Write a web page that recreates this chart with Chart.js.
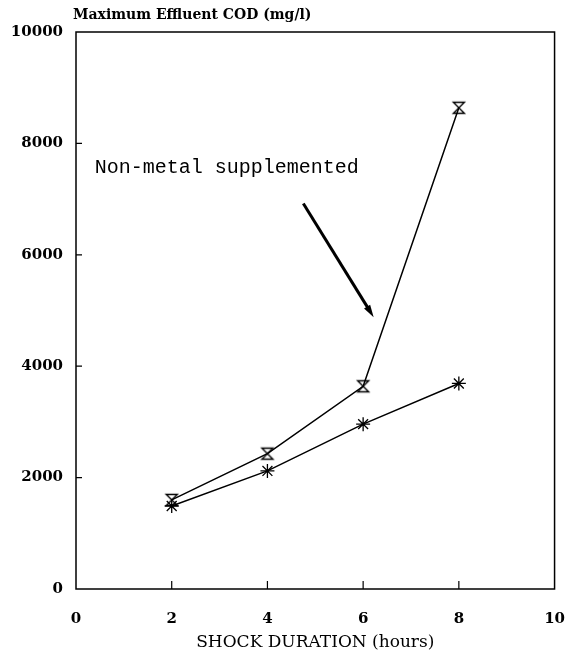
<!DOCTYPE html>
<html>
<head>
<meta charset="utf-8">
<script src="https://cdn.jsdelivr.net/npm/chart.js@4"></script>
<style>
  html, body { margin: 0; padding: 0; background: #fff; }
  #wrap { width: 566px; height: 659px; }
</style>
</head>
<body>
<div id="wrap"><canvas id="codChart" width="566" height="659"></canvas></div>
<script>
// shock duration (hours)
const durations = [2, 4, 6, 8];
// max effluent COD (mg/l)
const nonMetal = [1600, 2430, 3640, 8640];
const metal = [1490, 2120, 2960, 3690];
const xTicks = [0, 2, 4, 6, 8, 10];
const yTicks = [0, 2000, 4000, 6000, 8000, 10000];

// annotation, in data units
const noteText = 'Non-metal supplemented';
const notePos = [0.39, 7460];
const arrowFrom = [4.75, 6920];
const arrowTo = [6.22, 4880];

const serif = "'DejaVu Serif', serif";

// hourglass marker
const hourglass = document.createElement('canvas');
hourglass.width = 16;
hourglass.height = 16;
(function () {
  const c = hourglass.getContext('2d');
  c.strokeStyle = '#000';
  c.lineWidth = 1.4;
  c.beginPath();
  c.moveTo(2.5, 2.5); c.lineTo(13.5, 2.5); c.lineTo(2.5, 13.5); c.lineTo(13.5, 13.5); c.closePath();
  c.stroke();
})();

const frame = {
  id: 'frame',
  afterDraw(chart) {
    const { ctx, chartArea: a, scales } = chart;
    ctx.save();
    ctx.strokeStyle = '#000';
    ctx.lineWidth = 1.5;
    ctx.strokeRect(a.left, a.top, a.right - a.left, a.bottom - a.top);

    // inward ticks
    ctx.lineWidth = 1.2;
    ctx.beginPath();
    xTicks.slice(1, -1).forEach(v => {
      const px = scales.x.getPixelForValue(v);
      ctx.moveTo(px, a.bottom); ctx.lineTo(px, a.bottom - 8);
    });
    yTicks.slice(1, -1).forEach(v => {
      const py = scales.y.getPixelForValue(v);
      ctx.moveTo(a.left, py); ctx.lineTo(a.left + 6, py);
    });
    ctx.stroke();

    // y axis title on top
    ctx.fillStyle = '#000';
    ctx.font = 'bold 14px ' + serif;
    ctx.textBaseline = 'alphabetic';
    ctx.textAlign = 'left';
    ctx.fillText('Maximum Effluent COD (mg/l)', a.left - 3, 19);

    // note + arrow
    ctx.font = "20px 'Liberation Mono', monospace";
    ctx.fillText(noteText, scales.x.getPixelForValue(notePos[0]), scales.y.getPixelForValue(notePos[1]));
    const x1 = scales.x.getPixelForValue(arrowFrom[0]), y1 = scales.y.getPixelForValue(arrowFrom[1]);
    const x2 = scales.x.getPixelForValue(arrowTo[0]), y2 = scales.y.getPixelForValue(arrowTo[1]);
    const ang = Math.atan2(y2 - y1, x2 - x1);
    ctx.lineWidth = 3;
    ctx.beginPath();
    ctx.moveTo(x1, y1);
    ctx.lineTo(x2 - 8 * Math.cos(ang), y2 - 8 * Math.sin(ang));
    ctx.stroke();
    ctx.beginPath();
    ctx.moveTo(x2, y2);
    ctx.lineTo(x2 - 13 * Math.cos(ang - 0.28), y2 - 13 * Math.sin(ang - 0.28));
    ctx.lineTo(x2 - 13 * Math.cos(ang + 0.28), y2 - 13 * Math.sin(ang + 0.28));
    ctx.closePath();
    ctx.fill();
    ctx.restore();
  }
};

const tickFont = { family: serif, weight: 'bold', size: 15 };

new Chart(document.getElementById('codChart'), {
  type: 'scatter',
  data: {
    datasets: [
      {
        label: 'Non-metal supplemented',
        data: durations.map((d, i) => ({ x: d, y: nonMetal[i] })),
        showLine: true,
        borderColor: '#000',
        borderWidth: 1.5,
        pointStyle: hourglass,
        pointRadius: 8,
      },
      {
        label: 'Metal supplemented',
        data: durations.map((d, i) => ({ x: d, y: metal[i] })),
        showLine: true,
        borderColor: '#000',
        backgroundColor: '#000',
        borderWidth: 1.5,
        pointStyle: 'star',
        pointRadius: 7,
        pointBorderWidth: 1.3,
      },
    ],
  },
  options: {
    responsive: false,
    animation: false,
    layout: { padding: { top: 32, right: 11, left: 0, bottom: 0 } },
    plugins: { legend: { display: false }, tooltip: { enabled: false } },
    scales: {
      x: {
        type: 'linear',
        min: 0,
        max: 10,
        afterBuildTicks: s => { s.ticks = xTicks.map(v => ({ value: v })); },
        afterFit: s => { s.height = 70; },
        grid: { display: true, drawOnChartArea: false, tickLength: 20, color: 'rgba(0,0,0,0)' },
        border: { display: false },
        ticks: { color: '#000', padding: 1, font: tickFont, callback: v => String(v) },
        title: {
          display: true,
          text: 'SHOCK DURATION (hours)',
          color: '#000',
          padding: { top: 0, bottom: 6 },
          font: { family: serif, size: 17 },
        },
      },
      y: {
        min: 0,
        max: 10000,
        afterBuildTicks: s => { s.ticks = yTicks.map(v => ({ value: v })); },
        afterFit: s => { s.width = 76; },
        grid: { display: true, drawOnChartArea: false, tickLength: 11, color: 'rgba(0,0,0,0)' },
        border: { display: false },
        ticks: { color: '#000', padding: 2, font: tickFont, callback: v => String(v) },
      },
    },
  },
  plugins: [frame],
});
</script>
</body>
</html>
